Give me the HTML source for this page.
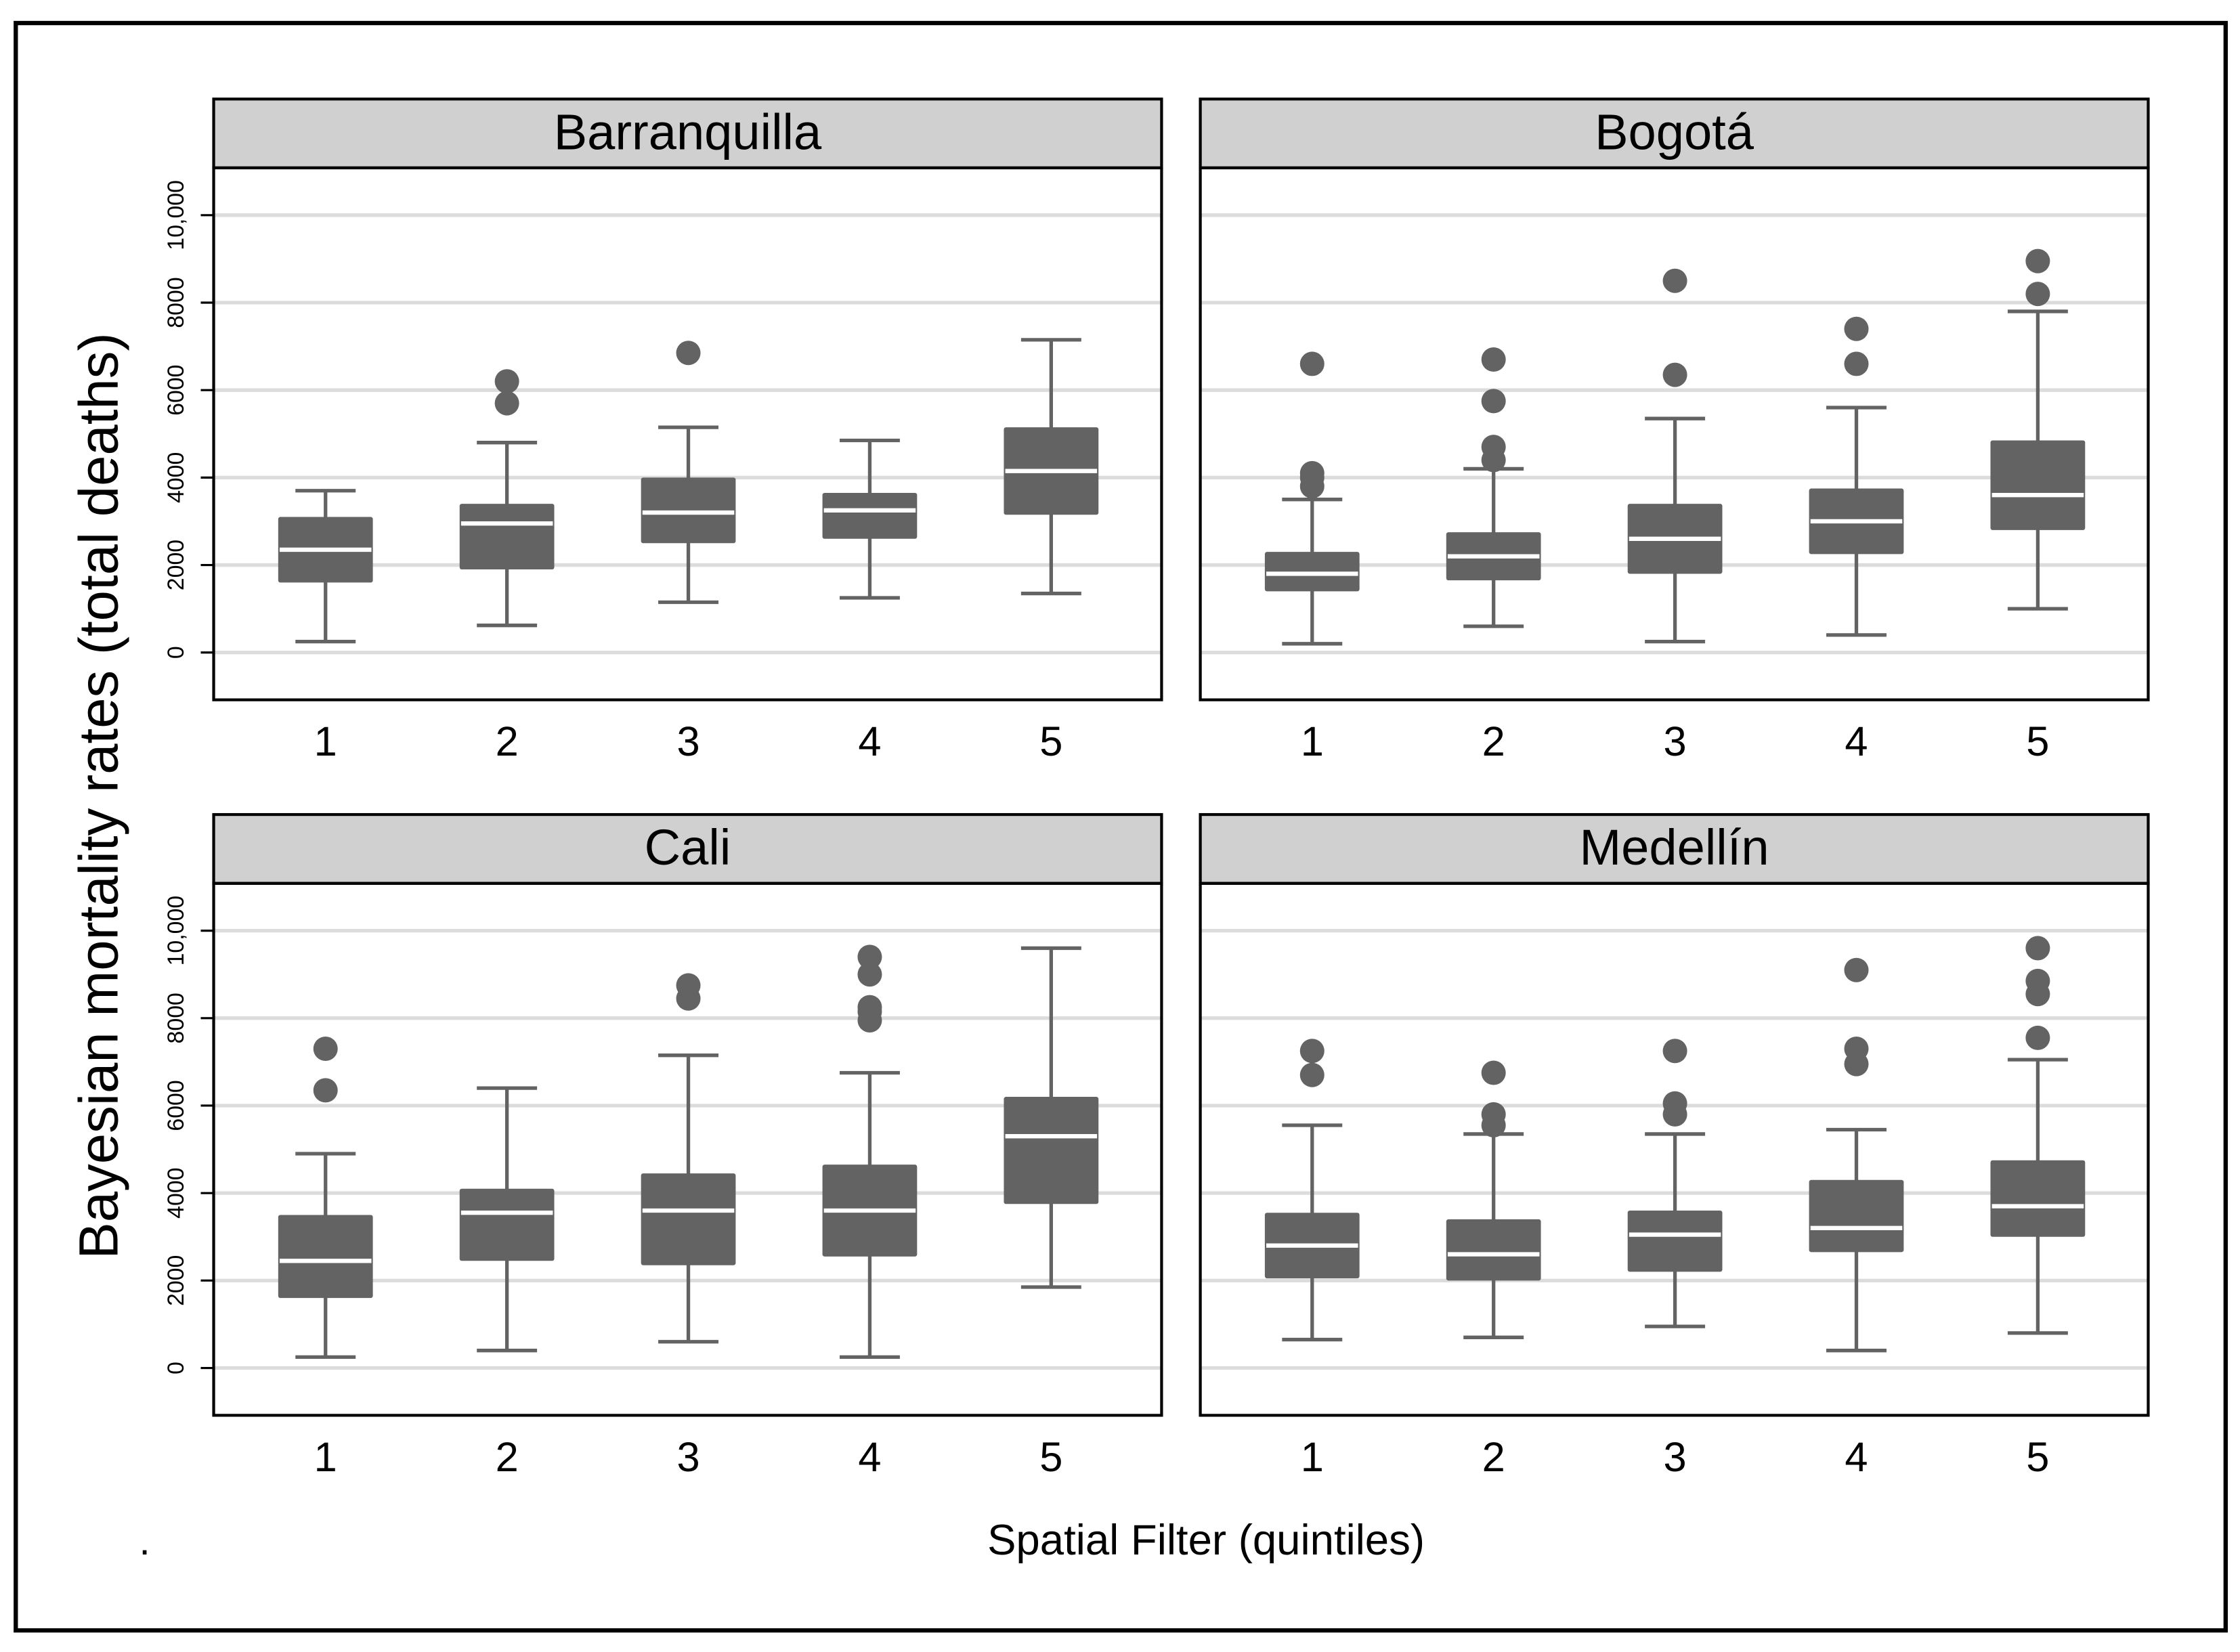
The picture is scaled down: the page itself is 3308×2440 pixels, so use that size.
<!DOCTYPE html>
<html><head><meta charset="utf-8"><style>html,body{margin:0;padding:0;background:#fff}svg{display:block}text{font-family:"Liberation Sans",sans-serif}</style></head>
<body>
<svg id="chart" width="3308" height="2440" viewBox="0 0 1562 1152" xmlns="http://www.w3.org/2000/svg">
<rect x="0" y="0" width="1562" height="1152" fill="#fff"/>
<rect x="11" y="16" width="1541" height="1121" fill="none" stroke="#000" stroke-width="3"/>
<text transform="translate(82,555) rotate(-90)" text-anchor="middle" font-size="38.5">Bayesian mortality rates (total deaths)</text>
<text x="841" y="1084" text-anchor="middle" font-size="30">Spatial Filter (quintiles)</text>
<text x="97" y="1084" font-size="28">.</text>
<g id="panels"></g>
</svg>
<script>
const cities = ["Barranquilla","Bogotá","Cali","Medellín"];
const categories = [1,2,3,4,5];
const yTicks = [0,2000,4000,6000,8000,10000];
const yTickLabels = ["0","2000","4000","6000","8000","10,000"];
const lows = [[250,620,1150,1250,1350],[200,600,250,400,1000],[250,400,600,250,1850],[650,700,950,400,800]];
const q1s = [[1600,1900,2500,2600,3150],[1400,1650,1800,2250,2800],[1600,2450,2350,2550,3750],[2050,2000,2200,2650,3000]];
const medians = [[2350,2950,3200,3250,4150],[1800,2200,2600,3000,3600],[2450,3550,3600,3600,5300],[2800,2600,3050,3200,3700]];
const q3s = [[3100,3400,4000,3650,5150],[2300,2750,3400,3750,4850],[3500,4100,4450,4650,6200],[3550,3400,3600,4300,4750]];
const highs = [[3700,4800,5150,4850,7150],[3500,4200,5350,5600,7800],[4900,6400,7150,6750,9600],[5550,5350,5350,5450,7050]];
const outliers = [
 [[],[5700,6200],[6850],[],[]],
 [[3800,4000,4100,6600],[4400,4700,5750,6700],[6350,8500],[6600,7400],[8200,8950]],
 [[6350,7300],[],[8450,8750],[7950,8150,8250,9000,9400],[]],
 [[6700,7250],[5550,5800,6750],[5800,6050,7250],[6950,7300,9100],[7550,8550,8850,9600]]
];
const NS="http://www.w3.org/2000/svg";
const root=document.getElementById('panels');
function mk(tag,attrs,parent){const e=document.createElementNS(NS,tag);for(const k in attrs)e.setAttribute(k,attrs[k]);(parent||root).appendChild(e);return e;}
const panelX=[149,837], headerY=[69,568];
cities.forEach((city,p)=>{
  const col=p%2,row=Math.floor(p/2);
  const x0=panelX[col], W=661, x1=x0+W, hy=headerY[row], py0=hy+48, py1=py0+371;
  const zeroY=py0+338, tenY=py0+33;
  const yScale=v=>zeroY-(v/10000)*(zeroY-tenY);
  const xScale=c=>x0+78+(c-1)*126.5;
  const g=mk('g',{});
  
  
  const hdr=mk('rect',{x:x0,y:hy,width:W,height:48,fill:'#d0d0d0',stroke:'#000','stroke-width':2},g);
  
  
  const t=mk('text',{x:x0+W/2,y:hy+35,'text-anchor':'middle','font-size':35},g);t.textContent=city;
  
  
  yTicks.forEach((v,i)=>{
    const y=yScale(v);
    const gl=mk('line',{x1:x0,x2:x1,y1:y,y2:y,stroke:'#dcdcdc','stroke-width':2.5},g);
    
    
    if(col===0){
      mk('line',{x1:x0-9,x2:x0,y1:y,y2:y,stroke:'#000','stroke-width':1.5},g);
      const tl=mk('text',{transform:`translate(${x0-21},${y}) rotate(-90)`,'text-anchor':'middle','font-size':16},g);
      tl.textContent=yTickLabels[i];
      
      
    }
  });
  categories.forEach((c,i)=>{
    const cx=xScale(c);
    const xl=mk('text',{x:cx,y:py1+39,'text-anchor':'middle','font-size':29},g);xl.textContent=c;
    
    
    const wk=mk('line',{x1:cx,x2:cx,y1:yScale(lows[p][i]),y2:yScale(highs[p][i]),stroke:'#636363','stroke-width':2.5},g);
    
    
    [lows[p][i],highs[p][i]].forEach(v=>{
      const cap=mk('line',{x1:cx-21,x2:cx+21,y1:yScale(v),y2:yScale(v),stroke:'#636363','stroke-width':2.5},g);
      
      
    });
    const b=mk('rect',{x:cx-33,y:yScale(q3s[p][i]),width:66,height:yScale(q1s[p][i])-yScale(q3s[p][i]),fill:'#636363',rx:1.5},g);
    
    
    const m=mk('line',{x1:cx-32,x2:cx+32,y1:yScale(medians[p][i]),y2:yScale(medians[p][i]),stroke:'#fff','stroke-width':3},g);
    
    
    outliers[p][i].forEach(v=>{
      const o=mk('circle',{cx:cx,cy:yScale(v),r:8.5,fill:'#636363'},g);
      
      
    });
  });
  const fr=mk('rect',{x:x0,y:py0,width:W,height:371,fill:'none',stroke:'#000','stroke-width':2},g);
  
  
});
</script>
</body></html>
